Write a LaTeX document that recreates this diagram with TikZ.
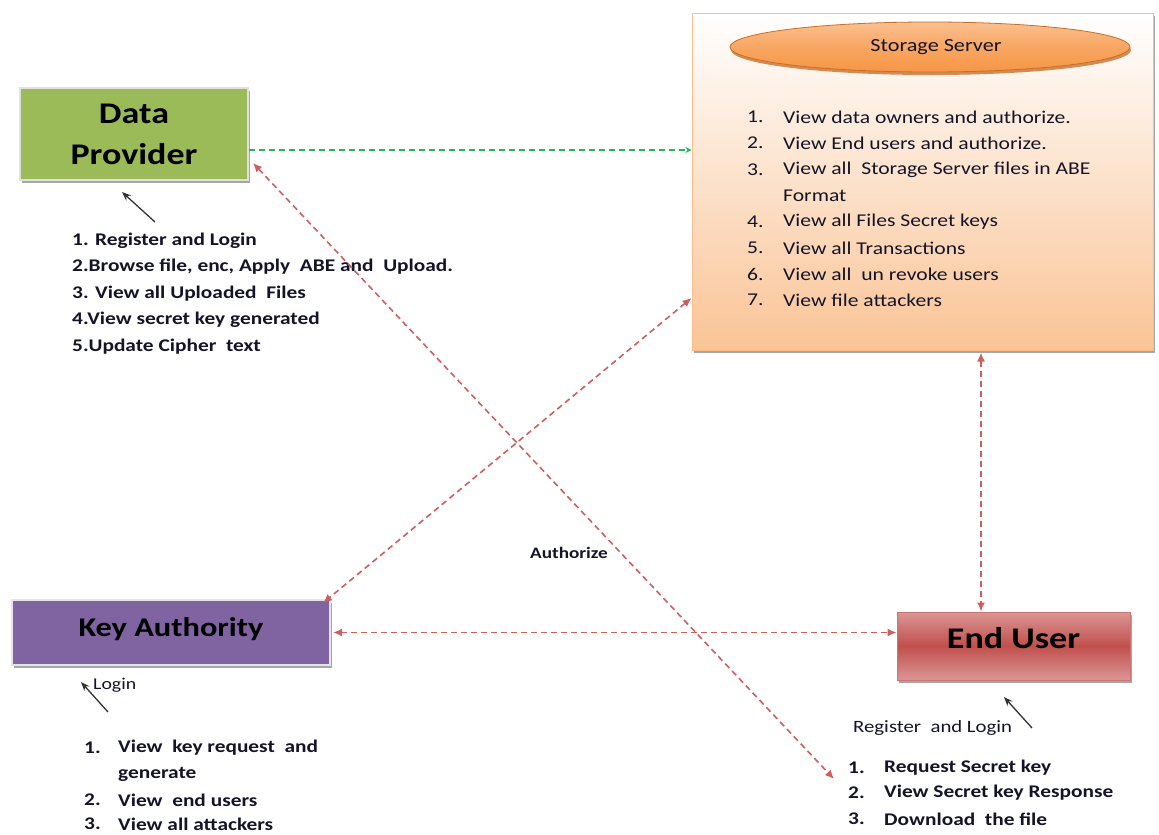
\documentclass[tikz,border=0pt]{standalone}
\usepackage{fontspec}
\setmainfont{Carlito}[FakeStretch=1.2]
\usetikzlibrary{arrows.meta,shapes.geometric,shadows}
\definecolor{dpgreen}{RGB}{155,187,89}
\definecolor{kapurple}{RGB}{128,100,162}
\definecolor{eured}{RGB}{192,80,77}
\definecolor{eulight}{RGB}{218,150,148}
\definecolor{peach}{RGB}{250,196,150}
\definecolor{ssborder}{RGB}{250,190,140}
\definecolor{ellorange}{RGB}{247,150,70}
\definecolor{ellborder}{RGB}{200,110,40}
\definecolor{linkred}{RGB}{205,95,95}
\definecolor{linkgreen}{RGB}{40,180,90}
\definecolor{txt}{RGB}{20,20,40}
\tikzset{
  boxshadow/.style={drop shadow={shadow xshift=2pt,shadow yshift=-3pt,fill=black!35,opacity=1}},
  titlebox/.style={inner sep=0pt,font=\bfseries\color{txt},boxshadow},
  link/.style={draw=linkred,line width=1.6pt,dash pattern=on 6pt off 4pt,
    {Latex[length=9pt,width=8pt]}-{Latex[length=9pt,width=8pt]}},
  blackarrow/.style={draw=black!80,line width=1.3pt,-{Stealth[length=9pt,width=7pt]}},
  item/.style={anchor=west,inner sep=0pt,text=txt,font=\fontsize{18}{20}\selectfont},
  bitem/.style={item,font=\bfseries\fontsize{17.8}{20}\selectfont},
}
\begin{document}
\begin{tikzpicture}[x=1pt,y=-1pt]
\useasboundingbox (0,0) rectangle (1159,835);
% Storage server box
\node[draw=ssborder,line width=1pt,top color=white,bottom color=peach,
  minimum width=461pt,minimum height=337pt,inner sep=0pt,boxshadow] (ss) at (922.5,181.5) {};
\node[ellipse,draw=ellborder,line width=0.8pt,top color=ellorange!60,bottom color=ellorange,
  middle color=ellorange!85,minimum width=400pt,minimum height=50pt,inner sep=0pt,
  font=\fontsize{18.5}{20}\selectfont,text=txt,
  drop shadow={shadow xshift=1pt,shadow yshift=-3pt,fill=ellborder!80,opacity=1}] (ell) at (930,47) {\hspace*{12pt}Storage Server};
\foreach \n/\t/\y in {1./View data owners and authorize./117,
  2./View End users and authorize./143,
  3./View all\ \ Storage Server files in ABE/170,
  /Format/196,
  4./View all Files Secret keys/222,
  5./View all Transactions/248,
  6./View all\ \ un revoke users/274,
  7./View file attackers/300}{
  \node[item] (ssn\y) at (747,\y) {\n};
  \node[item] (sst\y) at (783,\y) {\t};
}
% Data provider
\node[titlebox,fill=dpgreen,draw=black!12,line width=2pt,minimum width=228pt,minimum height=92pt,
  align=center,font=\bfseries\fontsize{30}{41}\selectfont] (dp) at (134,134) {Data\\Provider};
\coordinate (dpa) at (155,222);
\draw[blackarrow] (dpa) -- (122,192);
\foreach \t/\y in {1. Register and Login/241,
  {2.Browse file, enc, Apply\ \ ABE and\ \ Upload.}/267,
  3. View all Uploaded\ \ Files/294,
  4.View secret key generated/320,
  5.Update Cipher\ \ text/347}{
  \node[bitem] (dpl\y) at (72,\y) {\t};
}
% Key authority
\node[titlebox,fill=kapurple,draw=black!10,line width=2pt,minimum width=318pt,minimum height=65pt,
  font=\bfseries\fontsize{27}{30}\selectfont] (ka) at (171,632.5) {\raisebox{10pt}{Key Authority}};
\coordinate (kaa) at (108,712);
\draw[blackarrow] (kaa) -- (81,682);
\node[item,font=\fontsize{16.5}{18}\selectfont] (login) at (93,685) {Login};
\foreach \n/\t/\y in {1./View\ \ key request\ \ and/748, /generate/774, 2./View\ \ end users/800, 3./View all attackers/824}{
  \node[bitem] (kan\y) at (84,\y) {\n};
  \node[bitem] (kat\y) at (118,\y) {\t};
}
% End user
\node[titlebox,draw=eured!80,line width=1pt,top color=eulight,bottom color=eulight,middle color=eured,
  minimum width=233pt,minimum height=68pt,font=\bfseries\fontsize{30}{32}\selectfont] (eu) at (1013.5,646) {\raisebox{16pt}{End User}};
\coordinate (eua) at (1032,728);
\draw[blackarrow] (eua) -- (1004,697);
\node[item,font=\fontsize{17.3}{18}\selectfont] (reg) at (853,728) {Register\ \ and\ Login};
\foreach \n/\t/\y in {1./Request Secret key/768, 2./View Secret key Response/793, 3./Download\ \ the file/819}{
  \node[bitem] (eun\y) at (848,\y) {\n};
  \node[bitem] (eut\y) at (884,\y) {\t};
}
% Authorize label
\node[inner sep=0pt,font=\bfseries\fontsize{16}{18}\selectfont,text=txt] (auth) at (569,553) {Authorize};
% connectors
\coordinate (g1) at ([yshift=-16pt]dp.east);
\draw[draw=linkgreen,line width=1.3pt,dash pattern=on 6pt off 4pt,-{Stealth[length=6pt,width=6pt]}] (g1) -- (g1 -| ss.west);
\coordinate (s1) at ([yshift=-116.5pt]ss.west);
\draw[link] (s1) -- ([xshift=-8pt,yshift=-4pt]ka.north east);
\coordinate (d1) at ([xshift=4pt,yshift=-29pt]dp.east);
\coordinate (euend) at (834,779);
\draw[link] (d1) -- (euend);
\draw[link] ([xshift=2pt]ka.east) -- (ka.east -| eu.west);
\coordinate (v1) at ([xshift=58.5pt]ss.south);
\draw[link] ([yshift=-2pt]v1) -- (v1 |- eu.north);
\end{tikzpicture}
\end{document}
